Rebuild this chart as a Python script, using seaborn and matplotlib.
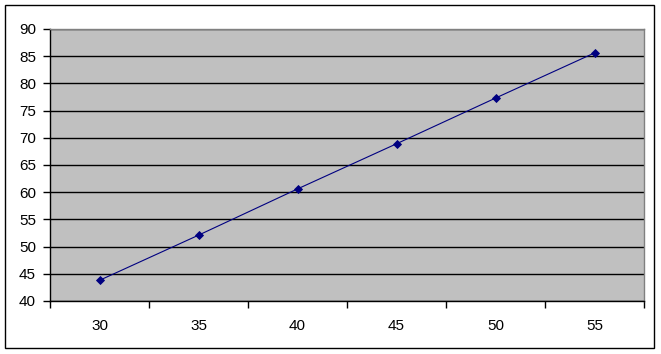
import matplotlib
matplotlib.use("Agg")
import matplotlib.pyplot as plt
import seaborn as sns
from matplotlib.patches import Rectangle

categories = ["30", "35", "40", "45", "50", "55"]
values = [43.8, 52.1, 60.6, 68.9, 77.3, 85.6]
y_ticks = [40, 45, 50, 55, 60, 65, 70, 75, 80, 85, 90]

sns.set_style("white")
plt.rcParams['font.family'] = ['Liberation Sans', 'DejaVu Sans']

fig = plt.figure(figsize=(6.61, 3.54), dpi=100)
ax = fig.add_axes([50/661, 53/354, 594/661, 272/354])
ax.set_facecolor("#C0C0C0")

sns.pointplot(x=categories, y=values, ax=ax, color="#000080",
              marker="D", markersize=4, linewidth=0.8, errorbar=None)

ax.set_ylim(40, 90)
ax.set_yticks(y_ticks)
ax.set_xlim(-0.5, 5.5)
ax.set_xticks(range(len(categories)))
ax.set_xticklabels(categories)
ax.set_xticks([i - 0.5 for i in range(len(categories) + 1)], minor=True)
ax.yaxis.grid(True, color="black", linewidth=1)
ax.xaxis.grid(False)
ax.set_axisbelow(True)
ax.set_xlabel("")
ax.set_ylabel("")

ax.tick_params(axis="x", which="major", length=0, pad=13, labelsize=11, colors="black")
ax.tick_params(axis="x", which="minor", length=5, width=1, color="black", direction="out", bottom=True)
ax.tick_params(axis="y", length=5, width=1, color="black", direction="out", left=True, pad=5, labelsize=11, labelcolor="black")

for s in ["left", "bottom"]:
    ax.spines[s].set_color("black")
    ax.spines[s].set_linewidth(1)
for s in ["top", "right"]:
    ax.spines[s].set_color("#808080")
    ax.spines[s].set_linewidth(1)
    ax.spines[s].set_visible(True)

fig.patches.append(Rectangle((5/661, 6/354), 649/661, 343/354, transform=fig.transFigure,
                             fill=False, edgecolor="black", linewidth=1))

fig.savefig("out.png", dpi=100)
